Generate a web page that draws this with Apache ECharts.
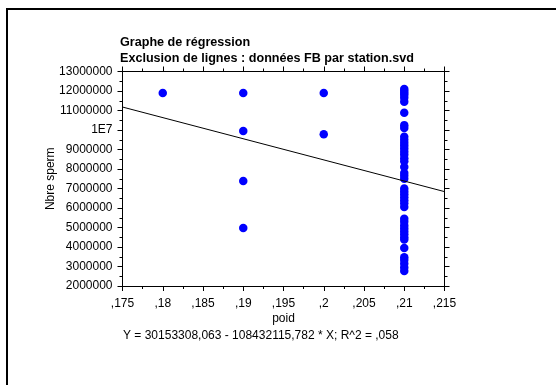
<!DOCTYPE html>
<html>
<head>
<meta charset="utf-8">
<script src="https://cdn.jsdelivr.net/npm/echarts@6/dist/echarts.min.js"></script>
<style>
  html, body { margin: 0; padding: 0; background: #fff; }
  #chart { width: 556px; height: 385px; }
</style>
</head>
<body>
<div id="chart"></div>
<script>
// Observations: weight (poid) and sperm count (Nbre sperm)
const poid = [
  0.18,
  0.19, 0.19, 0.19, 0.19,
  0.2, 0.2,
  0.21, 0.21, 0.21, 0.21, 0.21, 0.21, 0.21, 0.21, 0.21, 0.21,
  0.21, 0.21, 0.21, 0.21, 0.21, 0.21, 0.21, 0.21, 0.21, 0.21,
  0.21, 0.21, 0.21, 0.21, 0.21, 0.21, 0.21, 0.21, 0.21, 0.21,
  0.21, 0.21, 0.21, 0.21, 0.21, 0.21, 0.21, 0.21, 0.21, 0.21,
  0.21, 0.21, 0.21
];
const nbreSperm = [
  11900000,
  11900000, 9950000, 7380000, 4970000,
  11900000, 9780000,
  12100000, 12000000, 11900000, 11800000, 11650000, 11450000, 10880000, 10250000, 10100000, 9650000,
  9500000, 9350000, 9200000, 9050000, 8900000, 8750000, 8550000, 8400000, 8100000, 7800000,
  7650000, 7500000, 7000000, 6850000, 6700000, 6550000, 6400000, 6250000, 6050000, 5450000,
  5300000, 5100000, 4950000, 4800000, 4650000, 4500000, 4380000, 3950000, 3480000, 3330000,
  3150000, 2950000, 2770000
];

// Fitted regression: Y = a + b * X
const intercept = 30153308.063;
const slope = -108432115.782;
const rSquared = 0.058;

// Axis ranges and ticks
const xMin = 0.175, xMax = 0.215, xStep = 0.005;
const yMin = 2000000, yMax = 13000000, yStep = 1000000;

const FONT = '"Liberation Sans", Arial, sans-serif';

function frNum(v, digits) {
  // French-style decimal comma, no leading zero
  let s = v.toFixed(digits).replace('.', ',');
  if (s.startsWith('0,')) s = s.slice(1);
  if (s.startsWith('-0,')) s = '-' + s.slice(2);
  return s;
}
function xLabel(v) {
  let s = String(parseFloat(v.toFixed(4)));
  if (s.startsWith('0.')) s = s.slice(1);
  return s.replace('.', ',');
}
function yLabel(v) {
  return v === 10000000 ? '1E7' : String(Math.round(v));
}

const equation = 'Y = ' + frNum(intercept, 3) + ' - ' + frNum(Math.abs(slope), 3) +
  ' * X; R^2 = ' + frNum(rSquared, 3);

const points = poid.map((x, i) => [x, nbreSperm[i]]);
const fitLine = [xMin, xMax].map(x => [x, intercept + slope * x]);

function xAxisDef(pos, labels) {
  return {
    type: 'value', position: pos, min: xMin, max: xMax, interval: xStep,
    axisLine: { show: true, onZero: false, lineStyle: { color: '#000', width: 1 } },
    axisTick: { show: true, length: 5, lineStyle: { color: '#000', width: 1 } },
    minorTick: { show: true, splitNumber: 2, length: 3, lineStyle: { color: '#000', width: 1 } },
    splitLine: { show: false },
    axisLabel: { show: labels, formatter: xLabel, color: '#000', fontFamily: FONT, fontSize: 12, margin: 12 },
    name: labels ? 'poid' : '', nameLocation: 'middle', nameGap: 27, nameMoveOverlap: false,
    nameTextStyle: { color: '#000', fontFamily: FONT, fontSize: 12 }
  };
}
function yAxisDef(pos, labels) {
  return {
    type: 'value', position: pos, min: yMin, max: yMax, interval: yStep,
    axisLine: { show: true, onZero: false, lineStyle: { color: '#000', width: 1 } },
    axisTick: { show: true, length: 5, lineStyle: { color: '#000', width: 1 } },
    minorTick: { show: true, splitNumber: 2, length: 3, lineStyle: { color: '#000', width: 1 } },
    splitLine: { show: false },
    axisLabel: { show: labels, formatter: yLabel, color: '#000', fontFamily: FONT, fontSize: 12, margin: 10 },
    name: labels ? 'Nbre sperm' : '', nameLocation: 'middle', nameGap: 66, nameMoveOverlap: false,
    nameTextStyle: { color: '#000', fontFamily: FONT, fontSize: 12 }
  };
}

const chart = echarts.init(document.getElementById('chart'), null, { renderer: 'canvas' });
chart.setOption({
  animation: false,
  backgroundColor: '#fff',
  title: [
    {
      text: 'Graphe de régression\nExclusion de lignes : données FB par station.svd',
      left: 120, top: 35, padding: 0,
      textStyle: { color: '#000', fontFamily: FONT, fontSize: 12.6, fontWeight: 'bold', lineHeight: 16 }
    },
    {
      text: equation,
      left: 123, top: 330, padding: 0,
      textStyle: { color: '#000', fontFamily: FONT, fontSize: 12, fontWeight: 'normal' }
    }
  ],
  graphic: [
    {
      type: 'rect', silent: true,
      shape: { x: 7, y: 9, width: 620, height: 420 },
      style: { fill: 'none', stroke: '#000', lineWidth: 2 }
    }
  ],
  grid: { left: 122.5, top: 71.5, width: 322, height: 214.5, containLabel: false },
  xAxis: [xAxisDef('bottom', true), xAxisDef('top', false)],
  yAxis: [yAxisDef('left', true), yAxisDef('right', false)],
  series: [
    {
      type: 'scatter', xAxisIndex: 0, yAxisIndex: 0,
      data: points, symbol: 'circle', symbolSize: 8.5,
      itemStyle: { color: '#0000ff', opacity: 1 }
    },
    {
      type: 'line', xAxisIndex: 0, yAxisIndex: 0, z: 3,
      data: fitLine, showSymbol: false, symbol: 'none',
      lineStyle: { color: '#000', width: 1 }
    }
  ]
});
</script>
</body>
</html>
